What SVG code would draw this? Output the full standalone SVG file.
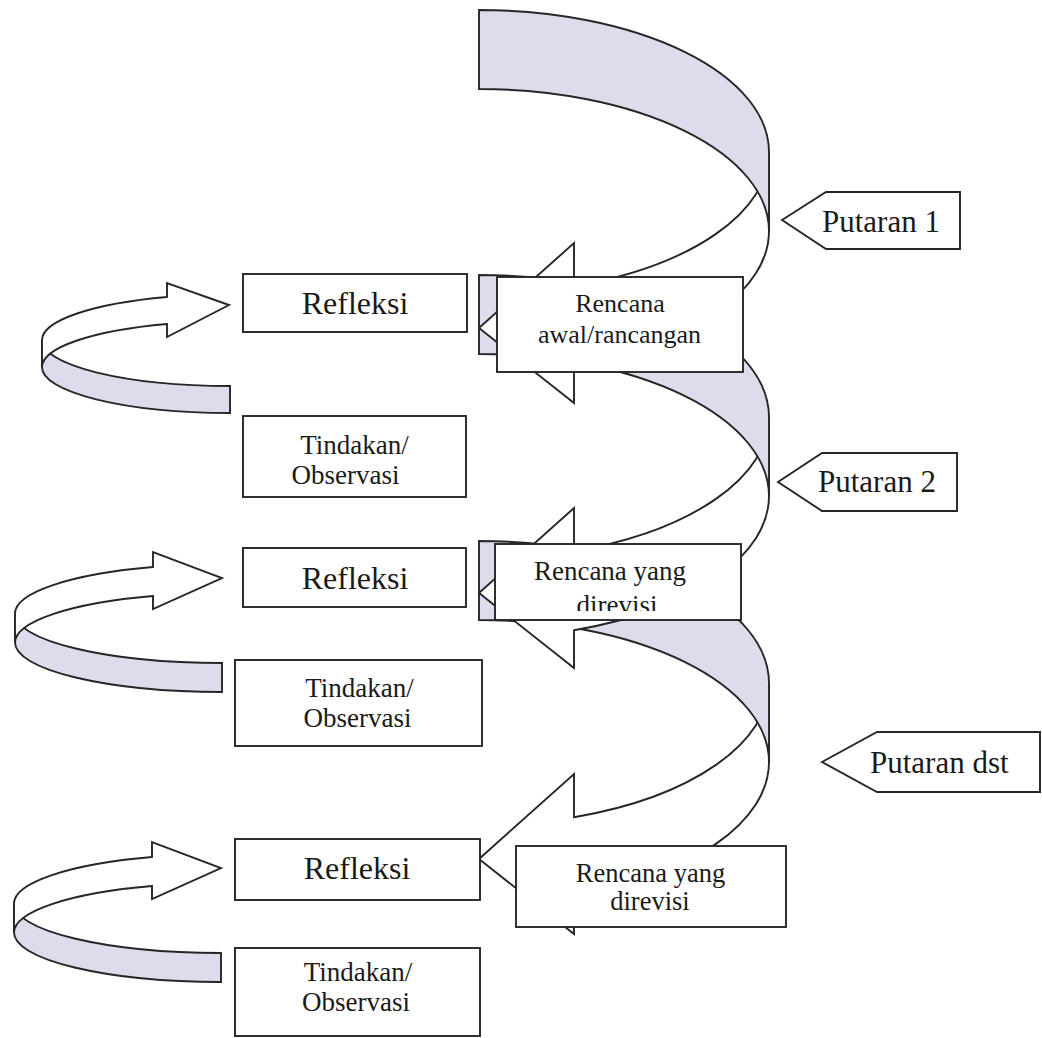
<svg xmlns="http://www.w3.org/2000/svg" xmlns:xlink="http://www.w3.org/1999/xlink" width="1042" height="1038" viewBox="0 0 1042 1038">
<style>
  .bg { fill: #ffffff; }
  .box { fill: #ffffff; stroke: #262626; stroke-width: 1.9; }
  .front { fill: #ffffff; stroke: #262626; stroke-width: 1.9; stroke-linejoin: miter; }
  .back { fill: #dcdcec; stroke: #262626; stroke-width: 1.9; stroke-linejoin: miter; }
  text { font-family: "Liberation Serif", "Times New Roman", serif; fill: #1a1a1a; }
  .big { font-size: 32px; }
  .put { font-size: 31px; }
  .mid { font-size: 27px; }
  .c { text-anchor: middle; }
</style>
<defs>
  <g id="bigArrow">
    <path class="front" d="M 574 286.2 A 290 142 0 0 0 769 152 L 769 231 A 290 142 0 0 1 574 365.2 L 574 403 L 479 328 L 574 243 Z"/>
    <path class="back" d="M 479 10 A 290 142 0 0 1 769 152 L 769 231 A 290 142 0 0 0 479 89 Z"/>
  </g>
  <g id="smallArrow">
    <path class="back" d="M 15 613.6 A 207 49.4 0 0 0 222 663 L 222 692 A 207 49.4 0 0 1 15 642.6 Z"/>
    <path class="front" d="M 153 567 A 207 49.4 0 0 0 15 613.6 L 15 642.6 A 207 49.4 0 0 1 153 596 L 153 609 L 222 578 L 153 552 Z"/>
  </g>
  <clipPath id="clipDirevisi">
    <rect x="496" y="545" width="245" height="66"/>
  </clipPath>
</defs>
<rect class="bg" x="0" y="0" width="1042" height="1038"/>

<g id="connectors">
  <use id="spiral-3" xlink:href="#bigArrow" transform="translate(0,531)"/>
  <use id="spiral-2" xlink:href="#bigArrow" transform="translate(0,265)"/>
  <use id="spiral-1" xlink:href="#bigArrow"/>
  <g id="loop-1">
    <path class="back" d="M 42 340.2 A 188 45.8 0 0 0 230 386 L 230 413 A 188 45.8 0 0 1 42 367.2 Z"/>
    <path class="front" d="M 167 297 A 188 45.8 0 0 0 42 340.2 L 42 367.2 A 188 45.8 0 0 1 167 324 L 167 337 L 229 305 L 167 283 Z"/>
  </g>
  <use id="loop-2" xlink:href="#smallArrow"/>
  <use id="loop-3" xlink:href="#smallArrow" transform="translate(-1,290)"/>
</g>

<g id="refleksi-1">
  <rect class="box" x="243" y="274" width="224" height="58"/>
  <text class="big c" x="355" y="314">Refleksi</text>
</g>
<g id="tindakan-1">
  <rect class="box" x="243" y="416" width="223" height="81"/>
  <text class="mid c" x="354.5" y="454">Tindakan/</text>
  <text class="mid c" x="345.5" y="484">Observasi</text>
</g>
<g id="rencana-1">
  <rect class="box" x="497" y="277" width="246" height="95"/>
  <text class="c" x="620" y="312" font-size="26">Rencana</text>
  <text class="c" x="619.5" y="343" font-size="26">awal/rancangan</text>
</g>

<g id="refleksi-2">
  <rect class="box" x="243" y="548" width="223" height="59"/>
  <text class="big c" x="355" y="589">Refleksi</text>
</g>
<g id="tindakan-2">
  <rect class="box" x="235" y="660" width="247" height="86"/>
  <text class="mid c" x="359.5" y="697">Tindakan/</text>
  <text class="mid c" x="357.5" y="727">Observasi</text>
</g>
<g id="rencana-2">
  <rect class="box" x="495" y="544" width="246" height="76"/>
  <text class="mid c" x="610" y="580">Rencana yang</text>
  <text class="mid c" x="617" y="614" clip-path="url(#clipDirevisi)">direvisi</text>
</g>

<g id="refleksi-3">
  <rect class="box" x="235" y="839" width="245" height="61"/>
  <text class="big c" x="357" y="879">Refleksi</text>
</g>
<g id="tindakan-3">
  <rect class="box" x="235" y="948" width="245" height="88"/>
  <text class="mid c" x="358" y="981">Tindakan/</text>
  <text class="mid c" x="356" y="1011">Observasi</text>
</g>
<g id="rencana-3">
  <rect class="box" x="516" y="846" width="270" height="81"/>
  <text class="c" x="650.5" y="882" font-size="26.5">Rencana yang</text>
  <text class="c" x="650" y="910" font-size="26.5">direvisi</text>
</g>

<g id="putaran-1">
  <polygon class="box" points="782,220 826,192 960,192 960,249 826,249"/>
  <text class="put" x="822" y="232">Putaran 1</text>
</g>
<g id="putaran-2">
  <polygon class="box" points="778,482 822,453 957,453 957,511 822,511"/>
  <text class="put" x="818" y="492">Putaran 2</text>
</g>
<g id="putaran-dst">
  <polygon class="box" points="822,762 877,732 1040,732 1040,792 877,792"/>
  <text class="put" x="870" y="773">Putaran dst</text>
</g>
</svg>
